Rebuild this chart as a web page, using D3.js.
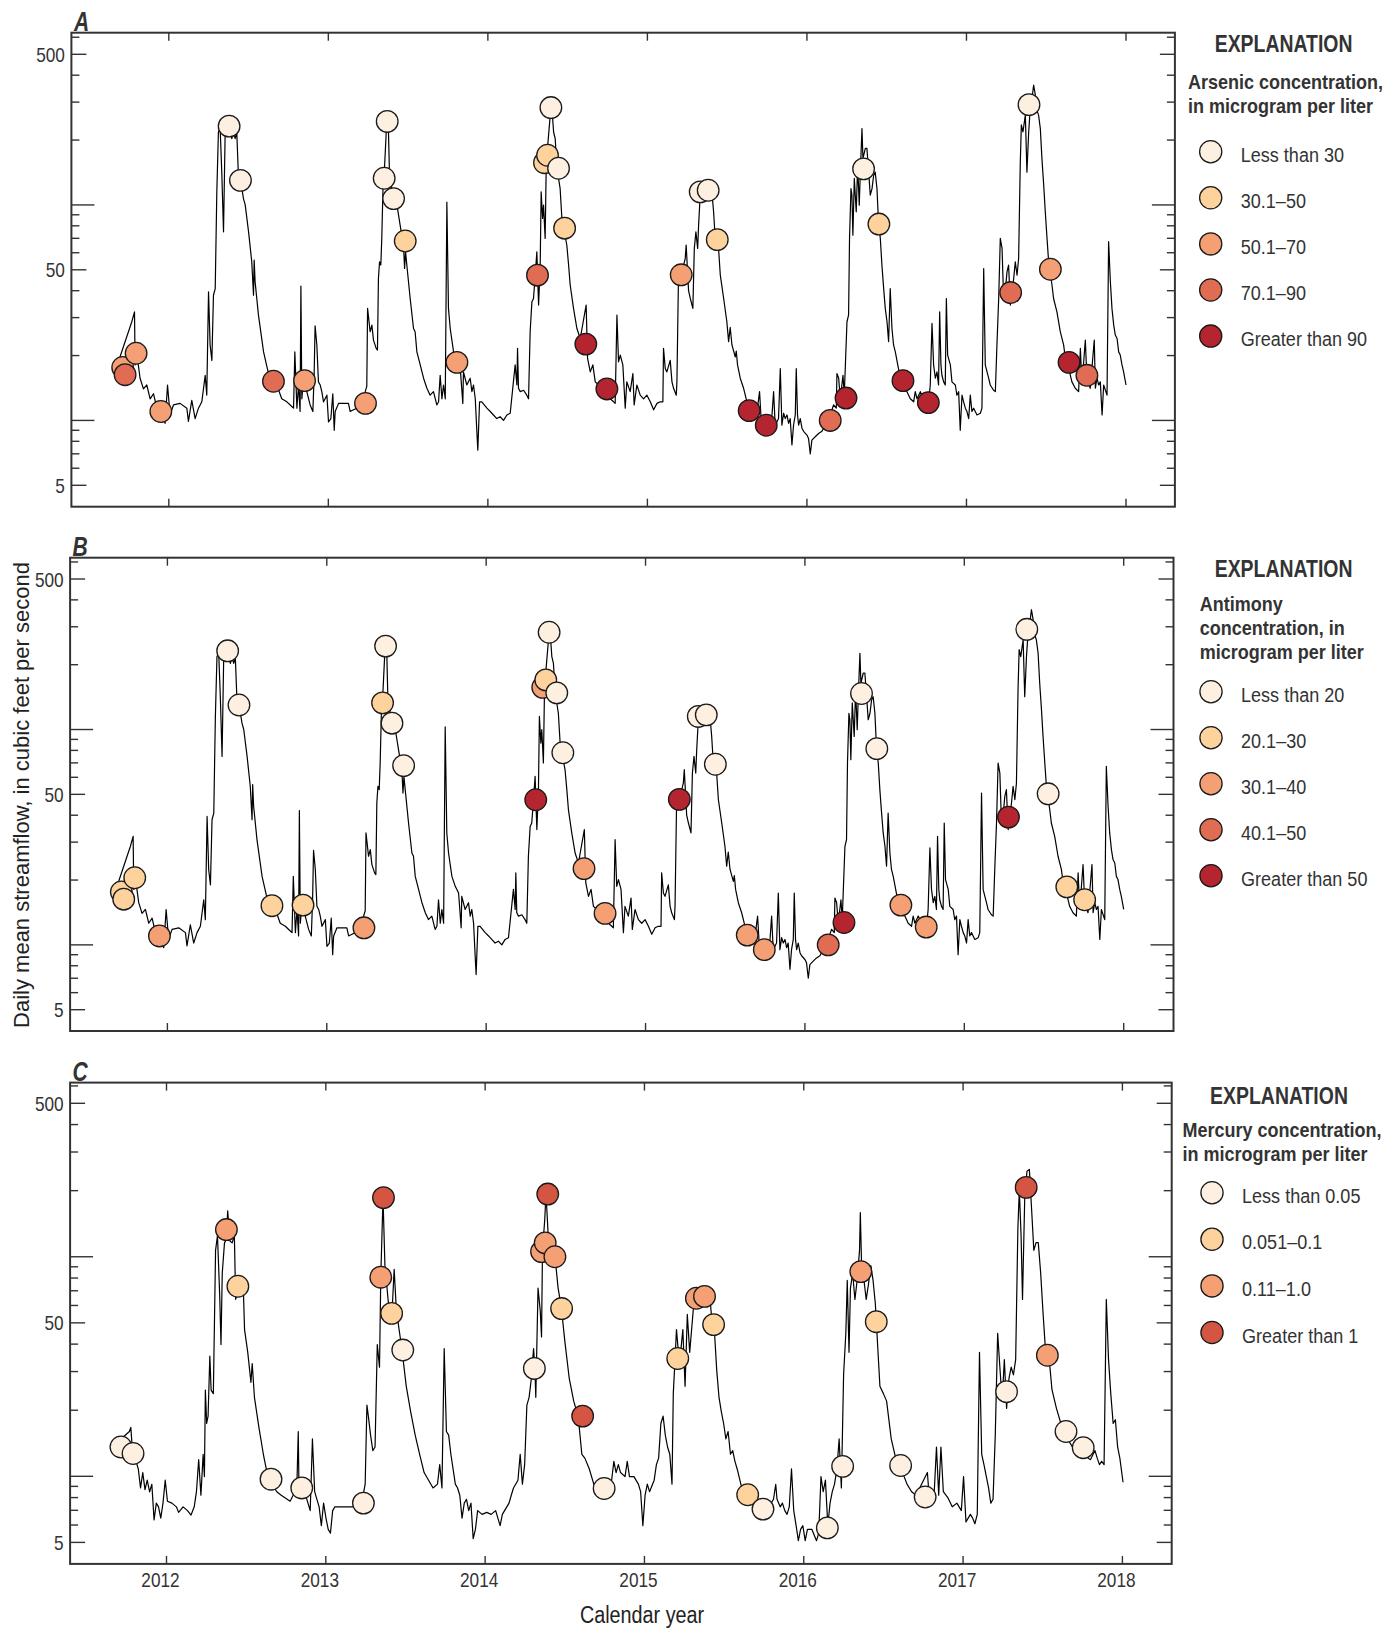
<!DOCTYPE html>
<html>
<head>
<meta charset="utf-8">
<script src="https://cdn.jsdelivr.net/npm/d3@7"></script>
<style>
  body { margin: 0; background: #fff; }
  svg { display: block; }
</style>
</head>
<body>
<div id="chart"></div>
<script>
"use strict";

// daily mean streamflow as drawn in panels A and B: [decimal year, cubic feet per second]
const streamflowAB = [
  [2011.663,17.4],[2011.695,19.8],[2011.768,28.7],[2011.785,31.9],[2011.789,18.1],[2011.799,20.5],[2011.820,15.7],
  [2011.841,14.0],[2011.862,14.6],[2011.883,12.6],[2011.904,13.3],[2011.925,11.4],[2011.950,11.0],[2011.977,9.7],
  [2011.992,14.6],[2012.008,10.6],[2012.029,11.8],[2012.071,12.0],[2012.113,11.4],[2012.123,9.9],[2012.144,12.4],
  [2012.165,10.2],[2012.186,11.4],[2012.207,12.2],[2012.228,16.2],[2012.238,13.1],[2012.249,39.5],[2012.259,22.4],
  [2012.270,19.0],[2012.280,38.1],[2012.291,40.9],[2012.301,115],[2012.311,218],[2012.322,226],[2012.332,142],
  [2012.343,75],[2012.353,211],[2012.364,226],[2012.385,218],[2012.395,203],[2012.405,218],[2012.416,203],
  [2012.426,218],[2012.437,133],[2012.458,119],[2012.468,107],[2012.479,100],[2012.500,75],[2012.520,54.5],
  [2012.531,38.1],[2012.535,55.5],[2012.541,44],[2012.562,30.8],[2012.594,20.8],[2012.625,16.5],[2012.677,14.6],
  [2012.708,12.6],[2012.740,12.2],[2012.771,11.6],[2012.782,11.4],[2012.790,20.8],[2012.803,11.4],[2012.813,14.6],
  [2012.823,11.0],[2012.828,42],[2012.834,12.6],[2012.844,15.4],[2012.865,13.6],[2012.886,11.8],[2012.903,11.0],
  [2012.911,16.2],[2012.917,27.5],[2012.928,22.4],[2012.938,15.1],[2012.949,14.6],[2012.959,13.6],[2012.970,12.2],
  [2012.991,13.1],[2013.001,9.85],[2013.016,10.2],[2013.028,13.3],[2013.037,9.0],[2013.043,11.0],[2013.064,12.0],
  [2013.126,12.0],[2013.137,11.0],[2013.158,11.2],[2013.179,11.4],[2013.210,12.0],[2013.241,14.4],[2013.246,33.1],
  [2013.262,25.8],[2013.273,27.7],[2013.283,23.6],[2013.300,21.6],[2013.308,21.2],[2013.314,45.6],[2013.321,54.5],
  [2013.329,52.6],[2013.335,69.9],[2013.342,115],[2013.346,142],[2013.352,148],[2013.363,218],[2013.371,243],
  [2013.377,218],[2013.383,142],[2013.398,119],[2013.430,100],[2013.450,80.6],[2013.471,65.1],[2013.478,50.7],
  [2013.484,60.6],[2013.492,52.6],[2013.513,36.8],[2013.534,26.7],[2013.544,25.8],[2013.555,20.8],[2013.576,18.1],
  [2013.597,15.7],[2013.618,14.1],[2013.638,13.1],[2013.659,13.6],[2013.680,11.8],[2013.691,12.2],[2013.701,16.2],
  [2013.712,12.6],[2013.722,14.6],[2013.733,12.6],[2013.743,103],[2013.753,33.1],[2013.764,26.7],[2013.785,20.8],
  [2013.806,18.7],[2013.827,17.4],[2013.843,12.0],[2013.847,16.8],[2013.868,14.6],[2013.889,15.7],[2013.900,13.6],
  [2013.910,14.6],[2013.921,12.6],[2013.931,8.86],[2013.937,7.28],[2013.948,12.2],[2013.962,12.2],[2013.994,11.4],
  [2014.015,11.0],[2014.035,10.6],[2014.056,10.2],[2014.077,10.4],[2014.098,10.0],[2014.119,10.6],[2014.140,10.8],
  [2014.171,18.1],[2014.182,14.6],[2014.186,21.6],[2014.192,14.1],[2014.203,13.6],[2014.224,13.8],[2014.244,13.1],
  [2014.255,12.6],[2014.265,25.8],[2014.276,35.5],[2014.286,36.8],[2014.297,47.2],[2014.307,60.6],[2014.318,34.3],
  [2014.328,52.6],[2014.334,115],[2014.343,86.5],[2014.349,99.8],[2014.359,69.9],[2014.366,153],[2014.370,170],
  [2014.391,261],[2014.401,285],[2014.412,218],[2014.422,203],[2014.433,148],[2014.453,119],[2014.464,86.5],
  [2014.495,65],[2014.506,52.6],[2014.516,42.5],[2014.537,33.1],[2014.558,26.7],[2014.579,24.0],[2014.616,34.3],
  [2014.625,19.4],[2014.642,16.8],[2014.658,18.1],[2014.673,15.1],[2014.694,14.6],[2014.725,14.1],[2014.767,12.6],
  [2014.788,12.2],[2014.798,12.0],[2014.809,30.8],[2014.819,18.7],[2014.830,20.1],[2014.846,18.1],[2014.861,11.4],
  [2014.871,15.1],[2014.892,13.6],[2014.909,16.5],[2014.917,11.8],[2014.934,14.6],[2014.955,13.1],[2014.976,12.6],
  [2014.997,13.1],[2015.018,12.2],[2015.039,11.2],[2015.060,12.0],[2015.080,12.2],[2015.097,12.2],[2015.101,21.6],
  [2015.112,17.4],[2015.122,16.8],[2015.143,19.0],[2015.154,15.1],[2015.164,14.1],[2015.181,13.1],[2015.185,15.1],
  [2015.195,47.2],[2015.206,52.6],[2015.220,42.5],[2015.227,52.6],[2015.237,56.4],[2015.243,65.1],[2015.258,40],
  [2015.269,36.8],[2015.285,33.1],[2015.294,62.8],[2015.304,75],[2015.315,62.8],[2015.321,80.6],[2015.331,111],
  [2015.342,117],[2015.363,115],[2015.383,123],[2015.404,115],[2015.415,92.9],[2015.425,69.9],[2015.446,62.8],
  [2015.457,47.2],[2015.478,36.8],[2015.498,28.7],[2015.509,23.2],[2015.519,27.0],[2015.530,22.4],[2015.551,19.7],
  [2015.557,21],[2015.565,18.1],[2015.582,15.7],[2015.603,14.1],[2015.624,12.2],[2015.645,11.8],[2015.687,11.0],
  [2015.703,13.6],[2015.712,10.4],[2015.728,10.0],[2015.760,9.5],[2015.781,10.6],[2015.791,13.6],[2015.801,9.5],
  [2015.822,10.2],[2015.833,17.4],[2015.843,9.5],[2015.854,10.8],[2015.864,10.2],[2015.875,10.6],[2015.885,9.7],
  [2015.895,10.2],[2015.906,7.7],[2015.916,9.5],[2015.927,10.6],[2015.933,17.4],[2015.941,10.6],[2015.948,9.5],
  [2015.958,10.2],[2015.969,9.2],[2015.979,8.9],[2016.000,8.55],[2016.010,8.25],[2016.021,7.0],[2016.031,8.1],
  [2016.052,8.4],[2016.073,8.7],[2016.094,8.9],[2016.115,9.5],[2016.146,10.6],[2016.167,11.8],[2016.184,11.4],
  [2016.188,16.5],[2016.199,15.7],[2016.209,12.6],[2016.226,16.2],[2016.234,13.1],[2016.251,28.7],[2016.261,30.8],
  [2016.267,69.9],[2016.276,119],[2016.282,111],[2016.288,72.4],[2016.297,133],[2016.309,92.9],[2016.318,153],
  [2016.328,99.8],[2016.334,137],[2016.345,226],[2016.351,164],[2016.366,183],[2016.376,183],[2016.387,142],
  [2016.397,111],[2016.408,119],[2016.418,137],[2016.428,142],[2016.439,119],[2016.449,82],[2016.460,69.9],
  [2016.470,52.6],[2016.481,40.9],[2016.491,33.1],[2016.502,28.7],[2016.512,23.2],[2016.522,40.9],[2016.533,26.7],
  [2016.543,22.4],[2016.554,20.8],[2016.564,19.0],[2016.585,15.7],[2016.606,14.1],[2016.627,13.6],[2016.648,12.6],
  [2016.669,12.2],[2016.679,13.6],[2016.690,12.6],[2016.711,13.6],[2016.732,12.6],[2016.763,12.2],[2016.773,14.6],
  [2016.784,28.2],[2016.794,18.1],[2016.805,15.7],[2016.815,16.8],[2016.825,14.6],[2016.832,31.9],[2016.840,18.1],
  [2016.846,16.2],[2016.857,15.1],[2016.867,14.6],[2016.874,36.8],[2016.882,20.1],[2016.899,18.1],[2016.909,15.1],
  [2016.930,14.6],[2016.940,13.1],[2016.951,13.6],[2016.961,9.0],[2016.972,13.1],[2016.982,12.2],[2016.993,11.4],
  [2017.003,11.0],[2017.014,10.2],[2017.024,13.1],[2017.034,11.0],[2017.045,11.4],[2017.066,10.6],[2017.087,10.8],
  [2017.097,11.4],[2017.108,50.7],[2017.118,18.1],[2017.129,16.8],[2017.139,15.7],[2017.149,14.6],[2017.170,13.8],
  [2017.181,13.6],[2017.191,22.4],[2017.202,36.8],[2017.212,69.9],[2017.223,62.8],[2017.233,36.8],[2017.243,39.5],
  [2017.254,48.9],[2017.264,52.6],[2017.275,34.3],[2017.285,39.5],[2017.296,45.6],[2017.306,54.5],[2017.317,47.2],
  [2017.327,56.4],[2017.337,153],[2017.344,235],[2017.354,218],[2017.369,261],[2017.379,142],[2017.390,218],
  [2017.400,281],[2017.411,312],[2017.421,360],[2017.432,323],[2017.442,274],[2017.452,261],[2017.463,226],
  [2017.473,164],[2017.484,124],[2017.494,92.9],[2017.505,69.9],[2017.515,54.5],[2017.536,42.5],[2017.546,36.8],
  [2017.567,31.9],[2017.588,25.8],[2017.609,22.4],[2017.620,19.4],[2017.641,17.4],[2017.661,15.1],[2017.682,14.1],
  [2017.703,13.6],[2017.714,21.6],[2017.724,14.6],[2017.745,23.6],[2017.755,15.7],[2017.776,14.1],[2017.801,23.6],
  [2017.808,14.1],[2017.818,15.7],[2017.829,14.6],[2017.839,15.1],[2017.850,10.6],[2017.860,14.6],[2017.881,13.1],
  [2017.891,67.5],[2017.902,44.0],[2017.912,33.1],[2017.923,27.7],[2017.933,24.9],[2017.944,24.0],[2017.954,20.8],
  [2017.964,20.1],[2017.975,18.1],[2017.985,16.8],[2018.000,14.6]
];

// daily mean streamflow as drawn in panel C
const streamflowC = [
  [2011.664,13.7],[2011.767,16.0],[2011.776,16.7],[2011.787,12.9],[2011.809,11.7],[2011.823,10.8],[2011.837,8.85],
  [2011.851,10.4],[2011.865,8.7],[2011.879,9.6],[2011.894,8.5],[2011.908,9.2],[2011.922,6.33],[2011.936,7.55],
  [2011.950,7.26],[2011.964,6.45],[2011.978,7.55],[2011.992,9.6],[2012.006,7.7],[2012.034,7.55],[2012.062,7.26],
  [2012.076,6.85],[2012.104,7.26],[2012.132,6.98],[2012.154,6.66],[2012.174,7.26],[2012.188,8.51],[2012.202,11.9],
  [2012.216,8.2],[2012.230,12.6],[2012.238,9.97],[2012.244,24.7],[2012.252,17.4],[2012.261,18.8],[2012.272,35.3],
  [2012.280,24.7],[2012.294,23.8],[2012.308,107],[2012.320,125],[2012.334,66.5],[2012.342,39.8],[2012.350,84.3],
  [2012.364,115.7],[2012.376,120],[2012.384,162],[2012.398,118],[2012.412,115.7],[2012.426,125],[2012.434,64],
  [2012.454,73.5],[2012.482,72],[2012.490,46.6],[2012.510,36.7],[2012.530,26.8],[2012.538,32.6],[2012.552,22.9],
  [2012.580,16.7],[2012.608,12.6],[2012.636,9.97],[2012.692,8.51],[2012.720,8.2],[2012.776,7.7],[2012.818,8.85],
  [2012.827,16.0],[2012.832,8.2],[2012.860,8.85],[2012.888,7.55],[2012.902,6.98],[2012.916,14.8],[2012.930,8.51],
  [2012.958,7.26],[2012.972,5.96],[2012.986,7.55],[2013.001,6.45],[2013.015,5.73],[2013.029,5.51],[2013.043,6.98],
  [2013.057,7.26],[2013.085,7.26],[2013.169,7.26],[2013.225,7.55],[2013.247,9.21],[2013.258,21.1],[2013.267,18.8],
  [2013.281,15.4],[2013.295,13.1],[2013.309,13.6],[2013.323,39.8],[2013.337,31.4],[2013.345,81],[2013.359,186],
  [2013.371,91.2],[2013.393,61.4],[2013.415,54.6],[2013.429,87.7],[2013.443,56.8],[2013.477,38.2],[2013.505,25.7],
  [2013.533,19.6],[2013.561,15.4],[2013.589,12.6],[2013.617,10.4],[2013.645,9.6],[2013.673,8.85],[2013.701,9.21],
  [2013.715,11.3],[2013.729,8.85],[2013.743,38.2],[2013.757,16.0],[2013.771,15.4],[2013.785,12.6],[2013.813,9.21],
  [2013.827,8.85],[2013.841,8.2],[2013.855,6.45],[2013.869,7.55],[2013.883,7.86],[2013.897,6.98],[2013.911,7.55],
  [2013.925,5.2],[2013.939,5.73],[2013.953,6.98],[2013.981,6.71],[2014.010,6.85],[2014.038,6.71],[2014.066,6.98],
  [2014.094,5.96],[2014.108,6.71],[2014.122,6.98],[2014.150,7.55],[2014.164,8.2],[2014.178,8.85],[2014.206,9.6],
  [2014.220,12.6],[2014.234,9.21],[2014.248,11.3],[2014.262,21.1],[2014.276,22.9],[2014.290,27.9],[2014.304,38.2],
  [2014.312,31.4],[2014.318,22.9],[2014.332,72],[2014.346,56.8],[2014.354,43.1],[2014.360,107],[2014.374,147],
  [2014.382,194],[2014.396,125],[2014.416,107],[2014.438,101],[2014.458,72],[2014.478,59.1],[2014.500,41.4],
  [2014.528,27.9],[2014.556,22.0],[2014.584,18.8],[2014.607,12.6],[2014.626,12.1],[2014.654,10.8],[2014.682,9.21],
  [2014.710,8.51],[2014.794,9.6],[2014.808,11.7],[2014.822,10.4],[2014.836,11.3],[2014.850,10.4],[2014.878,9.97],
  [2014.892,11.7],[2014.906,9.97],[2014.934,9.97],[2014.962,9.21],[2014.976,8.51],[2014.990,5.96],[2015.004,8.2],
  [2015.018,9.21],[2015.032,8.51],[2015.061,9.6],[2015.075,11.3],[2015.089,12.1],[2015.103,17.4],[2015.117,18.8],
  [2015.131,15.4],[2015.145,13.6],[2015.159,12.6],[2015.173,9.21],[2015.181,23.8],[2015.192,34.0],[2015.201,46.6],
  [2015.215,35.4],[2015.227,36.7],[2015.241,46.6],[2015.255,25.7],[2015.269,54.6],[2015.284,36.7],[2015.298,48.5],
  [2015.312,63.9],[2015.341,61.4],[2015.355,63.9],[2015.383,61.4],[2015.397,59.1],[2015.412,63.9],[2015.426,48.5],
  [2015.440,44.8],[2015.454,30.2],[2015.468,22.9],[2015.483,19.6],[2015.497,17.4],[2015.511,14.8],[2015.525,16.0],
  [2015.540,12.6],[2015.554,13.1],[2015.568,11.7],[2015.582,10.8],[2015.611,8.85],[2015.667,7.86],[2015.696,7.55],
  [2015.767,7.26],[2015.795,7.55],[2015.810,7.86],[2015.824,9.2],[2015.832,7.86],[2015.852,7.26],[2015.866,7.55],
  [2015.881,6.98],[2015.895,6.71],[2015.909,7.26],[2015.923,10.8],[2015.937,6.98],[2015.952,5.96],[2015.966,5.09],
  [2015.980,5.73],[2015.994,5.96],[2016.009,5.09],[2016.023,5.73],[2016.051,5.73],[2016.080,5.09],[2016.094,5.51],
  [2016.108,9.97],[2016.122,8.51],[2016.136,9.6],[2016.151,5.96],[2016.165,7.55],[2016.179,8.51],[2016.193,9.21],
  [2016.208,10.8],[2016.222,14.8],[2016.236,8.85],[2016.250,29.0],[2016.264,44.8],[2016.273,78],[2016.284,36.7],
  [2016.293,72],[2016.307,84.3],[2016.321,63.9],[2016.335,78],[2016.350,106.9],[2016.355,159],[2016.364,84.3],
  [2016.378,78],[2016.392,63.9],[2016.406,74.9],[2016.421,91.2],[2016.435,78],[2016.449,61.4],[2016.478,25.7],
  [2016.500,23.8],[2016.520,22.0],[2016.549,14.8],[2016.577,12.1],[2016.605,11.3],[2016.620,10.4],[2016.648,9.21],
  [2016.677,8.51],[2016.705,8.2],[2016.776,10.4],[2016.790,7.55],[2016.819,8.51],[2016.833,13.6],[2016.847,8.2],
  [2016.861,13.6],[2016.876,8.51],[2016.904,8.0],[2016.932,7.26],[2016.961,7.55],[2016.989,6.98],[2017.003,9.97],
  [2017.018,6.2],[2017.046,6.71],[2017.060,6.45],[2017.074,6.08],[2017.089,6.71],[2017.103,36.7],[2017.117,12.6],
  [2017.131,11.3],[2017.160,8.85],[2017.174,7.55],[2017.188,7.86],[2017.202,15.4],[2017.217,44.8],[2017.231,31.4],
  [2017.245,22.0],[2017.259,34.0],[2017.273,20.4],[2017.288,27.9],[2017.302,31.4],[2017.316,29.0],[2017.330,34.0],
  [2017.344,135.5],[2017.353,201],[2017.364,125],[2017.373,63.9],[2017.387,186],[2017.401,245],[2017.416,250],
  [2017.430,165],[2017.444,107],[2017.458,116],[2017.472,116],[2017.487,84.3],[2017.501,56.8],[2017.515,39.8],
  [2017.543,32.6],[2017.558,24.8],[2017.586,20.4],[2017.614,17.4],[2017.671,14.2],[2017.700,13.1],[2017.742,12.6],
  [2017.757,13.1],[2017.785,12.1],[2017.799,11.9],[2017.828,13.1],[2017.842,12.1],[2017.856,11.3],[2017.870,11.7],
  [2017.885,11.3],[2017.899,63.9],[2017.913,34.0],[2017.927,23.8],[2017.942,17.4],[2017.956,18.1],[2017.970,13.6],
  [2017.984,12.1],[2018.004,9.4]
];

// water-quality samples shared by panels A and B
const sampleYearsAB = [2011.711,2011.726,2011.795,2011.950,2012.378,2012.449,2012.656,2012.851,2013.233,2013.350,
  2013.369,2013.409,2013.482,2013.806,2014.311,2014.355,2014.374,2014.395,2014.443,2014.481,2014.614,2014.746,
  2015.212,2015.331,2015.381,2015.438,2015.638,2015.745,2016.146,2016.245,2016.355,2016.451,2016.602,2016.761,
  2017.277,2017.392,2017.526,2017.643,2017.755];
const sampleFlowsAB = [17.6,16.3,20.5,11.0,232,130,15.2,15.3,12.0,133,244,107,68,18.6,47.2,157,170,283,148,78,
  22.6,14.0,47.4,115,117,69,11.1,9.5,10.0,12.7,147,81.5,15.3,12.1,39.2,292,50.3,18.6,16.2];
// index into the bins below; null = not analysed
const arsenicClass = [2,3,2,2,0,0,3,2,2,0,0,0,1,2,3,1,1,0,0,1,4,4,2,0,0,1,4,4,3,4,0,1,4,4,3,0,2,4,3];
const antimonyClass = [1,1,1,2,0,0,1,1,2,1,0,0,0,null,4,2,1,0,0,0,2,2,4,0,0,0,2,2,3,4,0,0,2,2,4,0,0,1,1];

const mercuryYears = [2011.714,2011.790,2012.376,2012.448,2012.656,2012.849,2013.236,2013.345,2013.362,2013.413,
  2013.483,2014.309,2014.354,2014.377,2014.393,2014.438,2014.480,2014.612,2014.747,2015.209,2015.326,2015.377,
  2015.434,2015.648,2015.744,2016.148,2016.244,2016.358,2016.455,2016.608,2016.762,2017.273,2017.396,2017.529,
  2017.646,2017.754];
const mercuryFlows = [13.6,12.7,133,73.4,9.7,8.85,7.55,80.7,186,55.2,37.6,31.0,105.6,115.7,193,100,58.1,18.8,8.8,
  34.4,64.7,66.0,49.1,8.24,7.09,5.82,11.1,85.6,50.6,11.2,8.05,24.3,207,35.6,16.0,13.5];
const mercuryClass = [0,0,2,1,0,0,0,2,3,1,0,0,2,2,3,2,1,3,0,1,2,2,1,1,0,0,0,2,1,0,0,0,3,2,0,0];

const arsenicBins = ["Less than 30", "30.1\u201350", "50.1\u201370", "70.1\u201390", "Greater than 90"];
const antimonyBins = ["Less than 20", "20.1\u201330", "30.1\u201340", "40.1\u201350", "Greater than 50"];
const mercuryBins = ["Less than 0.05", "0.051\u20130.1", "0.11\u20131.0", "Greater than 1"];
const binColours = ["#fdf0e0", "#fdd29c", "#f4a074", "#e06c53", "#b5252f"];
const mercuryColours = ["#fdf0e0", "#fdd29c", "#f4a074", "#d35542"];

const yearTicks = [2012, 2013, 2014, 2015, 2016, 2017, 2018];
const flowLabels = [5, 50, 500];
const flowLongTicks = [10, 100];

// no condensed face installed, so Liberation Sans is squeezed horizontally
const family = '"Liberation Sans", Arial, sans-serif';
const R = 10.8;
const ink = "#333";

const svg = d3.select("#chart").append("svg")
  .attr("width", 1390).attr("height", 1631)
  .attr("viewBox", [0, 0, 1390, 1631]);

// squeezed text: anchor point (x, y), horizontal scale sx
function squeeze(sel, x, y, sx) {
  return sel.attr("transform", (d, i) => {
    const xx = typeof x === "function" ? x(d, i) : x;
    const yy = typeof y === "function" ? y(d, i) : y;
    return `translate(${xx},${yy}) scale(${sx},1)`;
  });
}

const panels = [
  {
    letter: "A", left: 71.4, right: 1174.9, top: 32.7, bottom: 506.7,
    x2012: 168.8, x2018: 1126, y500: 54.3, y5: 485.3,
    flow: streamflowAB,
    samples: sampleYearsAB.map((t, i) => [t, sampleFlowsAB[i], arsenicClass[i]]),
    bins: arsenicBins, colours: binColours,
    legend: { explY: 51.7, explX: 1283.6, titleX: 1188, title: ["Arsenic concentration,", "in microgram per liter"],
      titleY: 89, cx: 1210.7, cy: 151.7, step: 46.1 }
  },
  {
    letter: "B", left: 70.1, right: 1173.5, top: 557.7, bottom: 1031,
    x2012: 167.4, x2018: 1123.7, y500: 579, y5: 1009.7,
    flow: streamflowAB,
    samples: sampleYearsAB.map((t, i) => [t, sampleFlowsAB[i], antimonyClass[i]]).filter(d => d[2] !== null),
    bins: antimonyBins, colours: binColours,
    legend: { explY: 576.5, explX: 1283.6, titleX: 1199.8, title: ["Antimony", "concentration, in", "microgram per liter"],
      titleY: 611, cx: 1211, cy: 691.7, step: 46 }
  },
  {
    letter: "C", left: 70.1, right: 1171.7, top: 1082.6, bottom: 1563.9,
    x2012: 166.5, x2018: 1122.4, y500: 1103.3, y5: 1542.4,
    flow: streamflowC,
    samples: mercuryYears.map((t, i) => [t, mercuryFlows[i], mercuryClass[i]]),
    bins: mercuryBins, colours: mercuryColours,
    legend: { explY: 1104, explX: 1279, titleX: 1182.6, title: ["Mercury concentration,", "in microgram per liter"],
      titleY: 1136.5, cx: 1212, cy: 1192.7, step: 46.6 },
    yearLabels: true
  }
];

panels.forEach(drawPanel);

// axis titles
svg.append("text")
  .attr("transform", "translate(29,795) rotate(-90)")
  .attr("text-anchor", "middle")
  .style("font-family", family)
  .style("font-size", "22px")
  .attr("fill", "#222")
  .text("Daily mean streamflow, in cubic feet per second");

squeeze(svg.append("text"), 642, 1623, 0.86)
  .attr("text-anchor", "middle")
  .style("font-family", family)
  .style("font-size", "23px")
  .attr("fill", "#222")
  .text("Calendar year");

function drawPanel(p) {
  const x = d3.scaleLinear().domain([2012, 2018]).range([p.x2012, p.x2018]);
  const y = d3.scaleLog().domain([5, 500]).range([p.y5, p.y500]);
  const g = svg.append("g");

  // streamflow line
  const line = d3.line().x(d => x(d[0])).y(d => y(d[1]));
  g.append("path")
    .datum(p.flow)
    .attr("d", line)
    .attr("fill", "none")
    .attr("stroke", "#000")
    .attr("stroke-width", 1.2)
    .attr("stroke-linejoin", "round");

  // samples
  g.selectAll("circle.sample")
    .data(p.samples)
    .join("circle")
    .attr("class", "sample")
    .attr("cx", d => x(d[0]))
    .attr("cy", d => y(d[1]))
    .attr("r", R)
    .attr("fill", d => p.colours[d[2]])
    .attr("stroke", "#1a1a1a")
    .attr("stroke-width", 1.3);

  // y ticks, both sides, inward
  const lo = y.invert(p.bottom), hi = y.invert(p.top);
  const yt = d3.scaleLog().domain([lo, hi]).ticks().filter(v => v >= 5 && v <= hi);
  const tickLen = v => flowLongTicks.includes(v) ? 23 : flowLabels.includes(v) ? 15 : 8;
  yt.forEach(v => {
    const yy = y(v);
    g.append("line").attr("x1", p.left).attr("x2", p.left + tickLen(v))
      .attr("y1", yy).attr("y2", yy).attr("stroke", ink).attr("stroke-width", 1.4);
    g.append("line").attr("x1", p.right).attr("x2", p.right - tickLen(v))
      .attr("y1", yy).attr("y2", yy).attr("stroke", ink).attr("stroke-width", 1.4);
  });

  squeeze(g.selectAll("text.ylab").data(flowLabels).join("text").attr("class", "ylab"),
      p.left - 6.5, d => y(d) + 7.5, 0.82)
    .attr("text-anchor", "end")
    .style("font-family", family)
    .style("font-size", "21px")
    .attr("fill", ink)
    .text(d => d);

  // year ticks, top and bottom, inward
  yearTicks.forEach(t => {
    const xx = x(t);
    g.append("line").attr("x1", xx).attr("x2", xx).attr("y1", p.top).attr("y2", p.top + 8)
      .attr("stroke", ink).attr("stroke-width", 1.4);
    g.append("line").attr("x1", xx).attr("x2", xx).attr("y1", p.bottom).attr("y2", p.bottom - 8)
      .attr("stroke", ink).attr("stroke-width", 1.4);
  });

  if (p.yearLabels) {
    squeeze(g.selectAll("text.xlab").data(yearTicks).join("text").attr("class", "xlab"),
        d => x(d) - 6, p.bottom + 23, 0.82)
      .attr("text-anchor", "middle")
      .style("font-family", family)
      .style("font-size", "21px")
      .attr("fill", ink)
      .text(d => d);
  }

  // frame
  g.append("rect")
    .attr("x", p.left).attr("y", p.top)
    .attr("width", p.right - p.left).attr("height", p.bottom - p.top)
    .attr("fill", "none").attr("stroke", ink).attr("stroke-width", 2);

  // panel letter
  squeeze(g.append("text"), p.left + 2.5, p.top - 1.5, 0.78)
    .style("font-family", family)
    .style("font-size", "27px")
    .style("font-weight", "bold")
    .style("font-style", "italic")
    .attr("fill", ink)
    .text(p.letter);

  drawLegend(p);
}

function drawLegend(p) {
  const L = p.legend;
  const g = svg.append("g").style("font-family", family).attr("fill", ink);

  squeeze(g.append("text"), L.explX, L.explY, 0.81)
    .attr("text-anchor", "middle")
    .style("font-size", "24px").style("font-weight", "bold")
    .text("EXPLANATION");

  squeeze(g.selectAll("text.title").data(L.title).join("text").attr("class", "title"),
      L.titleX, (d, i) => L.titleY + i * 24, 0.9)
    .style("font-size", "20px").style("font-weight", "bold")
    .text(d => d);

  const item = g.selectAll("g.item")
    .data(p.bins)
    .join("g")
    .attr("class", "item")
    .attr("transform", (d, i) => `translate(${L.cx},${L.cy + i * L.step})`);

  item.append("circle")
    .attr("r", R + 0.3)
    .attr("fill", (d, i) => p.colours[i])
    .attr("stroke", "#1a1a1a")
    .attr("stroke-width", 1.3);

  squeeze(item.append("text"), 30, 10, 0.86)
    .style("font-size", "21px")
    .text(d => d);
}
</script>
</body>
</html>
